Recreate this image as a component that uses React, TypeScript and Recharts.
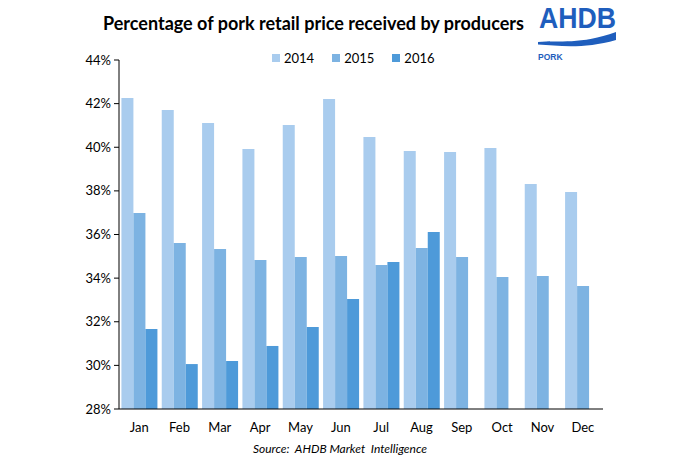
import { BarChart, Bar, XAxis, YAxis } from "recharts";

const months = ["Jan", "Feb", "Mar", "Apr", "May", "Jun", "Jul", "Aug", "Sep", "Oct", "Nov", "Dec"];
const y2014 = [42.26, 41.71, 41.11, 39.92, 41.02, 42.21, 40.47, 39.83, 39.78, 39.97, 38.31, 37.95];
const y2015 = [36.98, 35.61, 35.33, 34.83, 34.97, 35.01, 34.6, 35.38, 34.97, 34.05, 34.1, 33.64];
const y2016 = [31.67, 30.06, 30.2, 30.89, 31.76, 33.04, 34.74, 36.11, null, null, null, null];
const yTicks = [28, 30, 32, 34, 36, 38, 40, 42, 44];

const series = [
  { key: "y2014", name: "2014", color: "#A9CCEE" },
  { key: "y2015", name: "2015", color: "#7DB3E2" },
  { key: "y2016", name: "2016", color: "#4E9AD9" },
];

const data = months.map((m, i) => ({
  month: m,
  y2014: y2014[i],
  y2015: y2015[i],
  y2016: y2016[i],
}));

const font = "Lato, 'Open Sans', sans-serif";
const logoBlue = "#1F5EBD";

const App = () => {
  return (
    <div style={{ position: "absolute", left: 0, top: 0, width: 700, height: 460, background: "white", fontFamily: font }}>
      <div
        style={{
          position: "absolute",
          top: 12,
          left: 103,
          whiteSpace: "nowrap",
          fontWeight: 700,
          fontSize: 18,
          color: "#000",
        }}
      >
        Percentage of pork retail price received by producers
      </div>

      {/* logo */}
      <svg style={{ position: "absolute", left: 520, top: 0 }} width={120} height={70}>
        <text
          x={19}
          y={28}
          fill={logoBlue}
          fontFamily="'Liberation Sans', Arial, sans-serif"
          fontWeight={700}
          fontSize={29}
          textLength={77}
          lengthAdjust="spacingAndGlyphs"
        >
          AHDB
        </text>
        <path d="M18 42 C 40 40, 60 45, 96 32 L 96 40 C 65 49, 40 46, 18 44.5 Z" fill={logoBlue} />
        <text x={18} y={60} fill={logoBlue} fontFamily="'Liberation Sans', Arial, sans-serif" fontWeight={700} fontSize={8.5}>
          PORK
        </text>
      </svg>

      {/* legend */}
      <div style={{ position: "absolute", top: 50, left: 272, display: "flex", fontSize: 13, color: "#000" }}>
        {series.map((s) => (
          <div key={s.key} style={{ display: "flex", alignItems: "center", marginRight: 18 }}>
            <div style={{ width: 8, height: 8, background: s.color, marginRight: 4 }} />
            <span>{s.name}</span>
          </div>
        ))}
      </div>

      <BarChart
        width={700}
        height={460}
        data={data}
        margin={{ top: 60, right: 97, left: 0, bottom: 21 }}
        barCategoryGap="6%"
        barGap={0}
      >
        <XAxis
          dataKey="month"
          tickLine={false}
          axisLine={{ stroke: "#000", strokeWidth: 1 }}
          tick={{ fill: "#000", fontSize: 13, fontFamily: font }}
          tickMargin={8}
          height={30}
          interval={0}
        />
        <YAxis
          domain={[28, 44]}
          ticks={yTicks}
          width={119}
          tickFormatter={(v) => `${v}%`}
          axisLine={{ stroke: "#000", strokeWidth: 1 }}
          tickLine={{ stroke: "#000" }}
          tickSize={5}
          tick={{ fill: "#000", fontSize: 13, fontFamily: font }}
          tickMargin={3}
          allowDataOverflow
        />
        {series.map((s) => (
          <Bar key={s.key} dataKey={s.key} name={s.name} fill={s.color} isAnimationActive={false} />
        ))}
      </BarChart>

      <div
        style={{
          position: "absolute",
          top: 441,
          left: 0,
          width: 680,
          textAlign: "center",
          fontStyle: "italic",
          fontSize: 12,
          color: "#000",
        }}
      >
        Source:&nbsp; AHDB Market&nbsp; Intelligence
      </div>
    </div>
  );
};

export default App;
